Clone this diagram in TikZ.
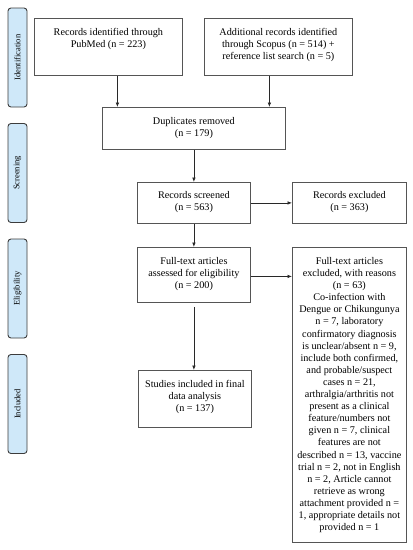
\documentclass[tikz,border=0pt]{standalone}
\usepackage{fontspec}
\setmainfont{Liberation Serif}
\usetikzlibrary{arrows.meta,calc}
\definecolor{sidefill}{RGB}{207,232,249}
\definecolor{sidedraw}{RGB}{60,60,60}
\definecolor{boxdraw}{RGB}{85,85,85}
\definecolor{arrowc}{RGB}{40,40,40}
\newcommand{\btext}[4]{\parbox[c][#2][t]{#1}{\centering\fontsize{10.2}{12.1}\selectfont\rule{0pt}{#3}#4\par}}
\begin{document}
\begin{tikzpicture}[x=1pt,y=-1pt,
  box/.style={draw=boxdraw,line width=0.8pt,inner sep=0pt,anchor=north west},
  side/.style={draw=sidedraw,fill=sidefill,line width=0.9pt,rounded corners=3pt,rotate=90,
     minimum width=99pt,minimum height=19pt,inner sep=0pt,font=\fontsize{8.5}{9}\selectfont},
  arr/.style={draw=arrowc,line width=0.7pt,-{Latex[length=4.5pt,width=3.6pt]}}]
\useasboundingbox (0,0) rectangle (413,550);
% sidebars
\node[side] (sid) at (17.5,57.5) {Identification};
\node[side] (sscr) at (17.5,173) {Screening};
\node[side] (selg) at (17.5,288.5) {Eligibility};
\node[side] (sinc) at (17.5,404) {Included};
% boxes
\node[box] (pub) at (34,18) {\btext{148pt}{57pt}{17pt}{Records identified through\\PubMed (n = 223)}};
\node[box] (sco) at (204,18) {\btext{148pt}{57pt}{17pt}{Additional records identified\\through Scopus (n = 514) +\\reference list search (n = 5)}};
\node[box] (dup) at (102,107) {\btext{183pt}{42pt}{17pt}{Duplicates removed\\(n = 179)}};
\node[box] (scr) at (137,182) {\btext{113pt}{41pt}{16pt}{Records screened\\(n = 563)}};
\node[box] (rex) at (292,182) {\btext{114pt}{41pt}{16pt}{Records excluded\\(n = 363)}};
\node[box] (ass) at (137,247) {\btext{113pt}{55pt}{17pt}{Full-text articles\\assessed for eligibility\\(n = 200)}};
\node[box] (fex) at (292,247) {\btext{114pt}{295pt}{17pt}{Full-text articles\\excluded, with reasons\\(n = 63)\\Co-infection with\\Dengue or Chikungunya\\n = 7, laboratory\\confirmatory diagnosis\\is unclear/absent n = 9,\\include both confirmed,\\and probable/suspect\\cases n = 21,\\arthralgia/arthritis not\\present as a clinical\\feature/numbers not\\given n = 7, clinical\\features are not\\described n = 13, vaccine\\trial n = 2, not in English\\n = 2, Article cannot\\retrieve as wrong\\attachment provided n =\\1, appropriate details not\\provided n = 1}};
\node[box] (stu) at (138,370) {\btext{113pt}{57pt}{17pt}{Studies included in final\\data analysis\\(n = 137)}};
% connectors
\draw[arr] ([xshift=9pt]pub.south) -- ([xshift=9pt]pub.south |- dup.north);
\draw[arr] ([xshift=-9pt]sco.south) -- ([xshift=-9pt]sco.south |- dup.north);
\draw[arr] (dup.south) -- (dup.south |- scr.north);
\draw[arr] (scr.east) -- (scr.east -| rex.west);
\draw[arr] (scr.south) -- (scr.south |- ass.north);
\draw[arr] ([yshift=-1.5pt]ass.east) -- ([yshift=-1.5pt]ass.east -| fex.west);
\draw[arr,shorten <=4pt] (ass.south) -- (ass.south |- stu.north);
\end{tikzpicture}
\end{document}
